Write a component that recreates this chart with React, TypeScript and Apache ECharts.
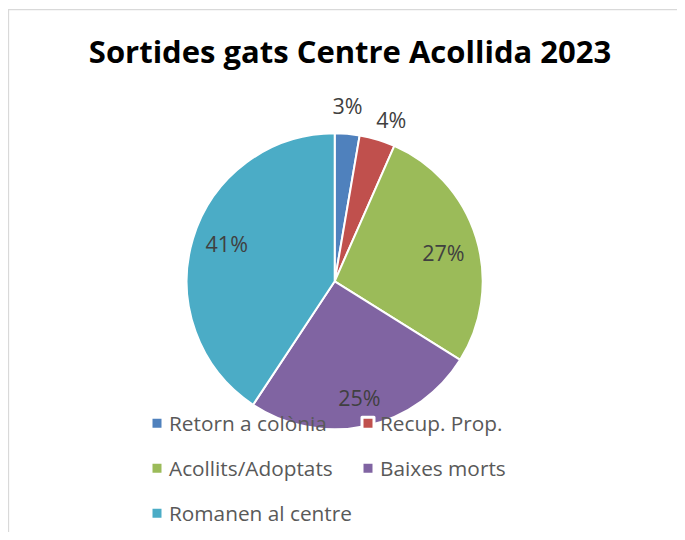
import React, { useEffect, useRef } from "react";
import * as echarts from "echarts";

const categories = ["Retorn a colònia", "Recup. Prop.", "Acollits/Adoptats", "Baixes morts", "Romanen al centre"];
const values = [2.7, 3.9, 27.3, 25.4, 40.7];
const colors = ["#4F81BD", "#C0504D", "#9BBB59", "#8064A2", "#4BACC6"];
const titleText = "Sortides gats Centre Acollida 2023";

// label placement (radius factor, angle tweak in degrees)
const labelRadius = [1.19, 1.158, 0.76, 0.8, 0.772];
const labelTweak = [-0.66, 2.56, 2.3, 0.24, 2.36];

const CX = 326.7;
const CY = 273.3;
const R = 148;
const FONT = "Open Sans";

export default function App() {
  const ref = useRef<HTMLDivElement>(null);
  useEffect(() => {
    if (!ref.current) return;
    const chart = echarts.init(ref.current, undefined, { renderer: "svg" });
    const total = values.reduce((a, b) => a + b, 0);
    const mids: number[] = [];
    let acc = 0;
    values.forEach((v) => {
      mids.push(((acc + v / 2) / total) * 360);
      acc += v;
    });
    const legendCommon = {
      orient: "vertical",
      top: 403.3,
      padding: 0,
      itemGap: 21,
      itemWidth: 12,
      itemHeight: 12,
      icon: "rect",
      itemStyle: { borderColor: "#ffffff", borderWidth: 3 },
      selectedMode: false,
      textStyle: {
        fontFamily: FONT,
        fontSize: 20.8,
        color: "#595959",
        lineHeight: 24,
        padding: [0, 0, 0, 1],
      },
    };
    chart.setOption({
      animation: false,
      color: colors,
      graphic: [
        {
          type: "rect",
          shape: { x: 0.5, y: 1.6, width: 2000, height: 2000 },
          style: { fill: "none", stroke: "#d9d9d9", lineWidth: 1.3 },
          z: -10,
          silent: true,
        },
        {
          type: "text",
          x: 342,
          y: 43,
          style: {
            text: titleText,
            fontFamily: FONT,
            fontWeight: "bold",
            fontSize: 31,
            fill: "#000000",
            align: "center",
            verticalAlign: "middle",
          },
        },
      ],
      legend: [
        { ...legendCommon, left: 141.5, data: [categories[0], categories[2], categories[4]] },
        { ...legendCommon, left: 352.5, data: [categories[1], categories[3]] },
      ],
      series: [
        {
          type: "pie",
          center: [CX, CY],
          radius: R,
          startAngle: 90,
          clockwise: true,
          avoidLabelOverlap: false,
          percentPrecision: 0,
          itemStyle: { borderColor: "#ffffff", borderWidth: 2 },
          label: {
            show: true,
            position: "inside",
            formatter: "{d}%",
            fontFamily: FONT,
            fontSize: 21.5,
            color: "#404040",
          },
          labelLine: { show: false },
          emphasis: { disabled: true },
          labelLayout: (params: any) => {
            const i = params.dataIndex;
            const a = ((mids[i] + labelTweak[i]) * Math.PI) / 180;
            const f = labelRadius[i] * R;
            return {
              x: CX + f * Math.sin(a),
              y: CY - f * Math.cos(a),
              align: "center",
              verticalAlign: "middle",
            };
          },
          data: categories.map((name, i) => ({ name, value: values[i] })),
        },
      ],
    });
    return () => chart.dispose();
  }, []);
  return <div ref={ref} style={{ width: 677, height: 524 }} />;
}
